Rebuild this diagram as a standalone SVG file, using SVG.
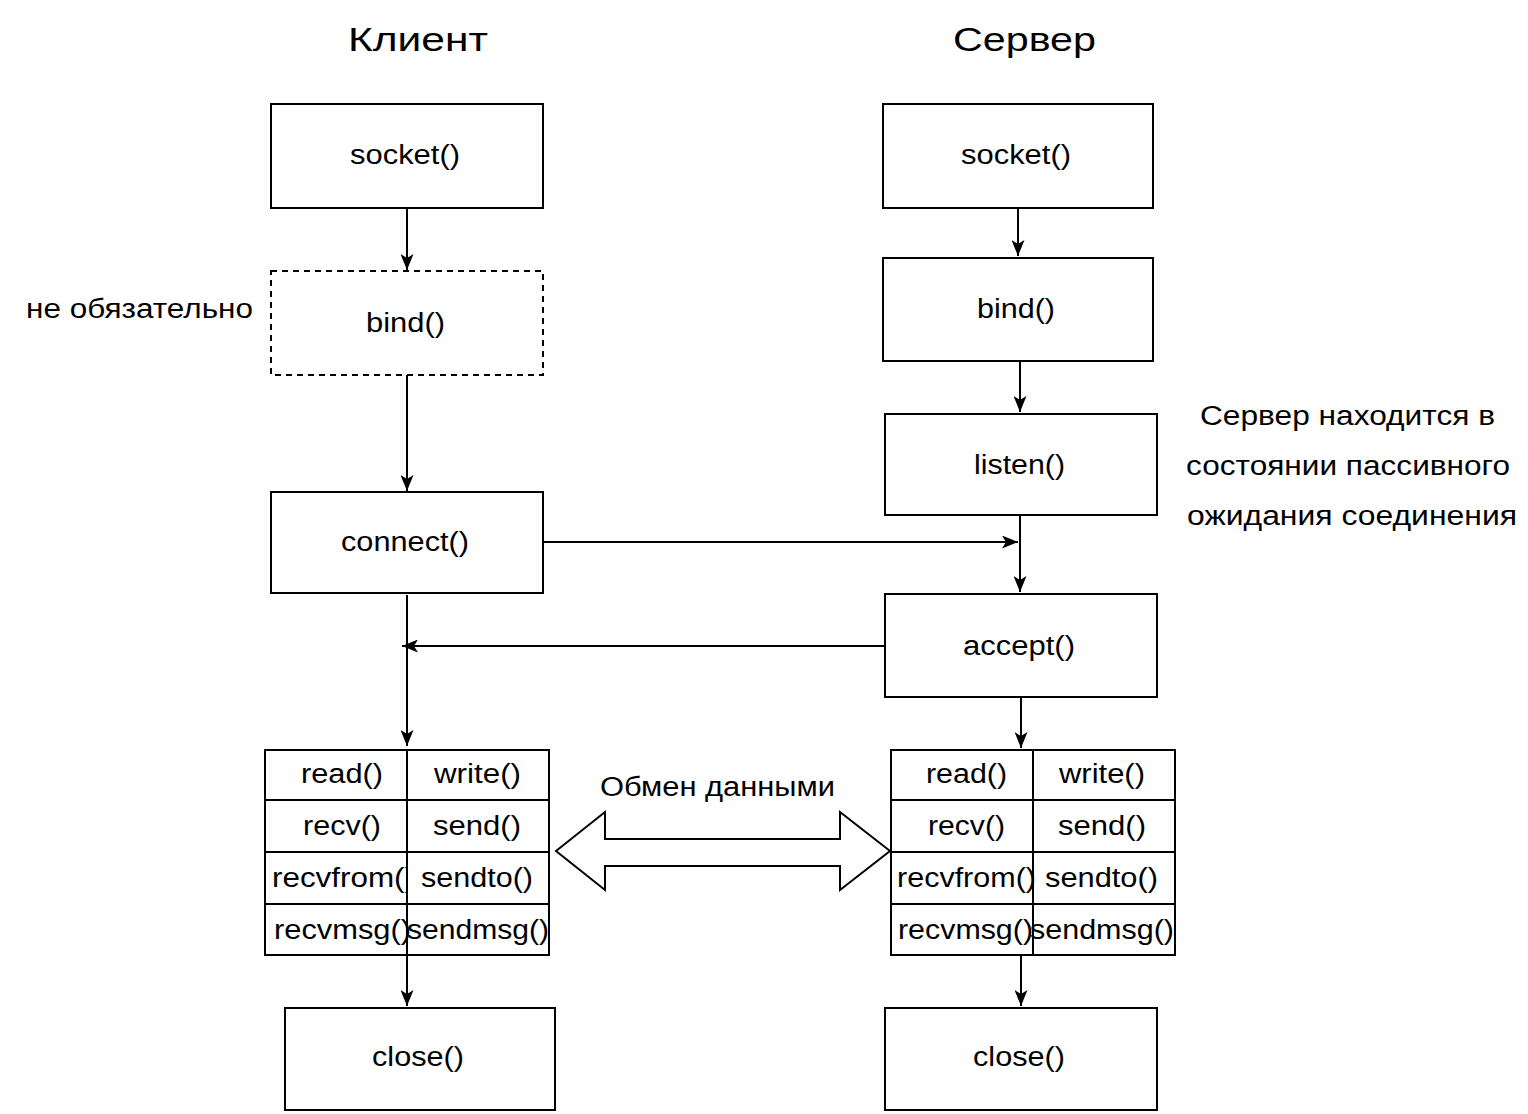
<svg xmlns="http://www.w3.org/2000/svg" width="1528" height="1114" viewBox="0 0 1528 1114">
<defs>
<style>
.b{fill:#fff;stroke:#000;stroke-width:2}
.d{fill:#fff;stroke:#000;stroke-width:2;stroke-dasharray:6 5}
text{font-family:"Liberation Sans",Arial,sans-serif;fill:#000}
.t{font-size:27px}
.h{font-size:33px}
.c{stroke:#000;stroke-width:2;fill:none;marker-end:url(#a)}
.g{stroke:#000;stroke-width:2}
</style>
<marker id="a" viewBox="0 0 10 10" refX="10" refY="5" markerWidth="16" markerHeight="13" markerUnits="userSpaceOnUse" orient="auto" preserveAspectRatio="none">
<path d="M0,0 L10,5 L0,10 L2.5,5 z" fill="#000"/>
</marker>
<clipPath id="cl"><rect x="265" y="852" width="142" height="52"/></clipPath>
</defs>
<rect width="1528" height="1114" fill="#fff"/>
<text class="h" x="348" y="51" textLength="140" lengthAdjust="spacingAndGlyphs">Клиент</text>
<text class="h" x="953" y="51" textLength="143" lengthAdjust="spacingAndGlyphs">Сервер</text>

<g id="connectors">
<line class="c" x1="407" y1="208" x2="407" y2="270"/>
<line class="c" x1="407" y1="375" x2="407" y2="491"/>
<line class="c" x1="407" y1="595" x2="407" y2="746"/>
<line class="c" x1="543" y1="542" x2="1018" y2="542"/>
<line class="c" x1="885" y1="646" x2="402" y2="646"/>
<line class="c" x1="407" y1="955" x2="407" y2="1006"/>
<line class="c" x1="1018" y1="208" x2="1018" y2="256"/>
<line class="c" x1="1020" y1="361" x2="1020" y2="412"/>
<line class="c" x1="1020" y1="515" x2="1020" y2="592"/>
<line class="c" x1="1021" y1="697" x2="1021" y2="748"/>
<line class="c" x1="1021" y1="955" x2="1021" y2="1006"/>
<path d="M556,851 L605,812 L605,839 L840,839 L840,812 L890,851 L840,890 L840,866 L605,866 L605,890 Z" fill="#fff" stroke="#000" stroke-width="2"/>
</g>

<g id="c-socket"><rect class="b" x="271" y="104" width="272" height="104"/><text class="t" x="350" y="164" textLength="110" lengthAdjust="spacingAndGlyphs">socket()</text></g>
<g id="c-bind"><rect class="d" x="271" y="271" width="272" height="104"/><text class="t" x="366" y="332" textLength="79" lengthAdjust="spacingAndGlyphs">bind()</text></g>
<g id="c-connect"><rect class="b" x="271" y="492" width="272" height="101"/><text class="t" x="341" y="551" textLength="128" lengthAdjust="spacingAndGlyphs">connect()</text></g>
<g id="c-io">
<rect class="b" x="265" y="750" width="284" height="205"/>
<line class="g" x1="265" y1="800" x2="549" y2="800"/>
<line class="g" x1="265" y1="852" x2="549" y2="852"/>
<line class="g" x1="265" y1="904" x2="549" y2="904"/>
<text class="t" x="301" y="783" textLength="82" lengthAdjust="spacingAndGlyphs">read()</text>
<text class="t" x="434" y="783" textLength="87" lengthAdjust="spacingAndGlyphs">write()</text>
<text class="t" x="303" y="835" textLength="78" lengthAdjust="spacingAndGlyphs">recv()</text>
<text class="t" x="433" y="835" textLength="88" lengthAdjust="spacingAndGlyphs">send()</text>
<text class="t" x="272" y="887" textLength="143" lengthAdjust="spacingAndGlyphs" clip-path="url(#cl)">recvfrom()</text>
<text class="t" x="421" y="887" textLength="112" lengthAdjust="spacingAndGlyphs">sendto()</text>
<text class="t" x="274" y="939" textLength="137" lengthAdjust="spacingAndGlyphs">recvmsg()</text>
<text class="t" x="407" y="939" textLength="142" lengthAdjust="spacingAndGlyphs">sendmsg()</text>
<line class="g" x1="407" y1="750" x2="407" y2="955"/>
</g>
<g id="c-close"><rect class="b" x="285" y="1008" width="270" height="102"/><text class="t" x="372" y="1066" textLength="92" lengthAdjust="spacingAndGlyphs">close()</text></g>

<g id="s-socket"><rect class="b" x="883" y="104" width="270" height="104"/><text class="t" x="961" y="164" textLength="110" lengthAdjust="spacingAndGlyphs">socket()</text></g>
<g id="s-bind"><rect class="b" x="883" y="258" width="270" height="103"/><text class="t" x="977" y="318" textLength="78" lengthAdjust="spacingAndGlyphs">bind()</text></g>
<g id="s-listen"><rect class="b" x="885" y="414" width="272" height="101"/><text class="t" x="974" y="474" textLength="91" lengthAdjust="spacingAndGlyphs">listen()</text></g>
<g id="s-accept"><rect class="b" x="885" y="594" width="272" height="103"/><text class="t" x="963" y="655" textLength="112" lengthAdjust="spacingAndGlyphs">accept()</text></g>
<g id="s-io">
<rect class="b" x="891" y="750" width="284" height="205"/>
<line class="g" x1="891" y1="800" x2="1175" y2="800"/>
<line class="g" x1="891" y1="852" x2="1175" y2="852"/>
<line class="g" x1="891" y1="904" x2="1175" y2="904"/>
<text class="t" x="926" y="783" textLength="81" lengthAdjust="spacingAndGlyphs">read()</text>
<text class="t" x="1059" y="783" textLength="86" lengthAdjust="spacingAndGlyphs">write()</text>
<text class="t" x="928" y="835" textLength="77" lengthAdjust="spacingAndGlyphs">recv()</text>
<text class="t" x="1058" y="835" textLength="88" lengthAdjust="spacingAndGlyphs">send()</text>
<text class="t" x="897" y="887" textLength="139" lengthAdjust="spacingAndGlyphs">recvfrom()</text>
<text class="t" x="1045" y="887" textLength="113" lengthAdjust="spacingAndGlyphs">sendto()</text>
<text class="t" x="898" y="939" textLength="135" lengthAdjust="spacingAndGlyphs">recvmsg()</text>
<text class="t" x="1030" y="939" textLength="144" lengthAdjust="spacingAndGlyphs">sendmsg()</text>
<line class="g" x1="1033" y1="750" x2="1033" y2="955"/>
</g>
<g id="s-close"><rect class="b" x="885" y="1008" width="272" height="102"/><text class="t" x="973" y="1066" textLength="92" lengthAdjust="spacingAndGlyphs">close()</text></g>

<text class="t" x="26" y="318" textLength="227" lengthAdjust="spacingAndGlyphs">не обязательно</text>
<text class="t" x="600" y="796" textLength="235" lengthAdjust="spacingAndGlyphs">Обмен данными</text>
<text class="t" x="1200" y="425" textLength="295" lengthAdjust="spacingAndGlyphs">Сервер находится в</text>
<text class="t" x="1186" y="475" textLength="324" lengthAdjust="spacingAndGlyphs">состоянии пассивного</text>
<text class="t" x="1187" y="525" textLength="330" lengthAdjust="spacingAndGlyphs">ожидания соединения</text>
</svg>
